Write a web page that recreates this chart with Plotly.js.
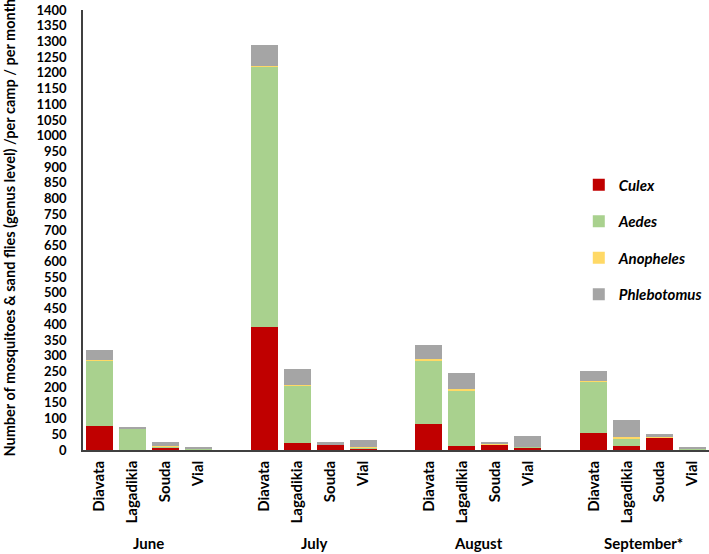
<!DOCTYPE html>
<html>
<head>
<meta charset="utf-8">
<script src="https://cdn.plot.ly/plotly-3.0.1.min.js"></script>
<style>
  html, body { margin: 0; padding: 0; background: #fff; }
  #chart { width: 709px; height: 554px; }
</style>
</head>
<body>
<div id="chart"></div>
<script>
// months and camps (each month group has four camps)
var months = ['June', 'July', 'August', 'September*'];
var camps = ['Diavata', 'Lagadikia', 'Souda', 'Vial'];

// counts per camp, month by month (June, July, August, September)
var culex       = [75, 0, 8, 1,    390, 23, 17, 6,   84, 13, 18, 8,   55, 12, 40, 3];
var aedes       = [209, 67, 2, 3,  831, 181, 1, 2,   202, 177, 1, 2,  162, 26, 1, 1];
var anopheles   = [2, 2, 2, 2,     2, 4, 1, 1,       2, 4, 1, 1,      3, 3, 1, 1];
var phlebotomus = [32, 3, 13, 2,   66, 50, 6, 22,    46, 51, 3, 33,   31, 54, 8, 3];

var yTicks = [];
for (var v = 0; v <= 1400; v += 50) yTicks.push(v);

// one empty slot between month groups
var xPos = [], xText = [];
months.forEach(function (m, i) {
    camps.forEach(function (c, j) {
        xPos.push(i * 5 + j);
        xText.push(c);
    });
});

function makeTrace(name, vals, color) {
    return {
        type: 'bar',
        x: xPos,
        y: vals,
        name: name,
        legendgroup: name,
        marker: { color: color, line: { width: 0 } },
        hoverinfo: 'y+name'
    };
}

var data = [
    makeTrace('<i>Culex</i>', culex, '#C00000'),
    makeTrace('<i>Aedes</i>', aedes, '#A9D18E'),
    makeTrace('<i>Anopheles</i>', anopheles, '#FFD966'),
    makeTrace('<i>Phlebotomus</i>', phlebotomus, '#A5A5A5')
];

var monthNotes = months.map(function (m, i) {
    return {
        text: '<b>' + m + '</b>',
        x: i * 5 + 1.5,
        xref: 'x',
        y: 0,
        yref: 'paper',
        yanchor: 'middle',
        yshift: -93,
        showarrow: false,
        font: { family: 'Lato', size: 15, color: '#000' }
    };
});

monthNotes.push({
    text: '<b>Number of mosquitoes &amp; sand flies (genus level) /per camp / per month</b>',
    textangle: -90,
    xref: 'paper',
    x: -0.117,
    xanchor: 'center',
    yref: 'paper',
    y: 0.505,
    yanchor: 'middle',
    showarrow: false,
    font: { family: 'Lato', size: 14.5, color: '#000' }
});

var layout = {
    width: 709,
    height: 554,
    margin: { l: 83, r: 0, t: 10, b: 104 },
    barmode: 'stack',
    bargap: 0.18,
    paper_bgcolor: '#fff',
    plot_bgcolor: '#fff',
    font: { family: 'Lato', color: '#000' },
    showlegend: true,
    legend: {
        x: 0.792,
        xanchor: 'left',
        y: 0.64,
        yanchor: 'top',
        traceorder: 'grouped',
        tracegroupgap: 14,
        itemwidth: 30,
        font: { family: 'Lato', size: 15, color: '#000', weight: 'bold' },
        bgcolor: 'rgba(0,0,0,0)'
    },
    xaxis: {
        range: [-0.5, 18.5],
        tickmode: 'array',
        tickvals: xPos,
        ticktext: xText,
        tickangle: -90,
        ticks: '',
        ticklabelstandoff: 3,
        showgrid: false,
        zeroline: false,
        showline: true,
        linecolor: '#404040',
        linewidth: 1.5,
        tickfont: { family: 'Lato', size: 15, color: '#000', weight: 'bold' }
    },
    yaxis: {
        range: [0, 1400],
        tickmode: 'array',
        tickvals: yTicks,
        ticks: '',
        ticklabelstandoff: 12,
        showgrid: false,
        zeroline: false,
        showline: true,
        linecolor: '#404040',
        linewidth: 1.5,
        tickfont: { family: 'Lato', size: 13, color: '#000', weight: 'bold' }
    },
    annotations: monthNotes
};

Plotly.newPlot('chart', data, layout, { displayModeBar: false });
</script>
</body>
</html>
